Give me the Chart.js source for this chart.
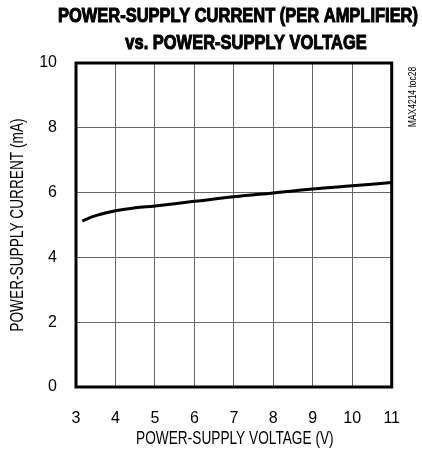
<!DOCTYPE html>
<html>
<head>
<meta charset="utf-8">
<script src="https://cdn.jsdelivr.net/npm/chart.js@4"></script>
<style>
  html, body { margin: 0; padding: 0; background: #fff; }
  #wrap { width: 422px; height: 453px; }
</style>
</head>
<body>
<div id="wrap"><canvas id="supplyChart"></canvas></div>
<script>
const FONT = '"Liberation Sans", Arial, sans-serif';
const NARROW = 0.76; // horizontal squeeze to mimic the condensed face

// values
const voltage = [3.16, 3.5, 4, 4.5, 5, 6, 7, 8, 9, 10, 11];
const current = [5.13, 5.29, 5.44, 5.53, 5.59, 5.73, 5.87, 5.99, 6.11, 6.21, 6.31];
const xTicks = [3, 4, 5, 6, 7, 8, 9, 10, 11];
const yTicks = [0, 2, 4, 6, 8, 10];
const titleLines = ['POWER-SUPPLY CURRENT (PER AMPLIFIER)', 'vs. POWER-SUPPLY VOLTAGE'];
const xTitle = 'POWER-SUPPLY VOLTAGE (V)';
const yTitle = 'POWER-SUPPLY CURRENT (mA)';
const sideNote = 'MAX4214 toc28';

function squeezedText(ctx, text, x, y, rot, sx, heavy) {
  ctx.save();
  ctx.translate(x, y);
  ctx.rotate(rot);
  ctx.scale(sx, 1);
  if (heavy) {
    ctx.lineWidth = heavy;
    ctx.strokeText(text, 0, 0);
  }
  ctx.fillText(text, 0, 0);
  ctx.restore();
}

// title, axis titles, outer frame and side note
const decorations = {
  id: 'decorations',
  afterDraw(chart) {
    const { ctx, chartArea: a } = chart;
    ctx.save();
    ctx.strokeStyle = '#000';
    ctx.lineWidth = 3;
    ctx.strokeRect(a.left, a.top, a.right - a.left, a.bottom - a.top);

    ctx.fillStyle = '#000';
    ctx.textAlign = 'center';
    ctx.textBaseline = 'middle';

    ctx.font = 'bold 21px ' + FONT;
    const tScale = 360 / ctx.measureText(titleLines[0]).width;
    squeezedText(ctx, titleLines[0], 238, 16, 0, tScale, 1.1);
    squeezedText(ctx, titleLines[1], 246, 43, 0, tScale, 1.1);

    ctx.font = '18px ' + FONT;
    const mid = (a.left + a.right) / 2;
    squeezedText(ctx, xTitle, mid + 1, 439, 0, NARROW);
    squeezedText(ctx, yTitle, 18, (a.top + a.bottom) / 2, -Math.PI / 2, NARROW);

    ctx.font = '10px ' + FONT;
    squeezedText(ctx, sideNote, 413, 97, -Math.PI / 2, 0.85);
    ctx.restore();
  }
};

new Chart(document.getElementById('supplyChart'), {
  type: 'line',
  data: {
    datasets: [{
      data: voltage.map((v, i) => ({ x: v, y: current[i] })),
      borderColor: '#000',
      borderWidth: 3,
      pointRadius: 0,
      tension: 0.4,
      fill: false
    }]
  },
  options: {
    responsive: true,
    maintainAspectRatio: false,
    animation: false,
    layout: { padding: { top: 63, right: 20, left: 0, bottom: 0 } },
    plugins: { legend: { display: false }, tooltip: { enabled: false } },
    scales: {
      x: {
        type: 'linear',
        min: 3,
        max: 11,
        afterBuildTicks: s => { s.ticks = xTicks.map(v => ({ value: v })); },
        afterFit: s => { s.height = 66; },
        grid: { color: '#666', lineWidth: 1, drawTicks: false },
        border: { display: false },
        ticks: { color: '#000', padding: 22, font: { family: FONT, size: 16 } }
      },
      y: {
        min: 0,
        max: 10,
        afterBuildTicks: s => { s.ticks = yTicks.map(v => ({ value: v })); },
        afterFit: s => { s.width = 76; },
        grid: { color: '#666', lineWidth: 1, drawTicks: false },
        border: { display: false },
        ticks: { color: '#000', padding: 19, font: { family: FONT, size: 16 } }
      }
    }
  },
  plugins: [decorations]
});
</script>
</body>
</html>
